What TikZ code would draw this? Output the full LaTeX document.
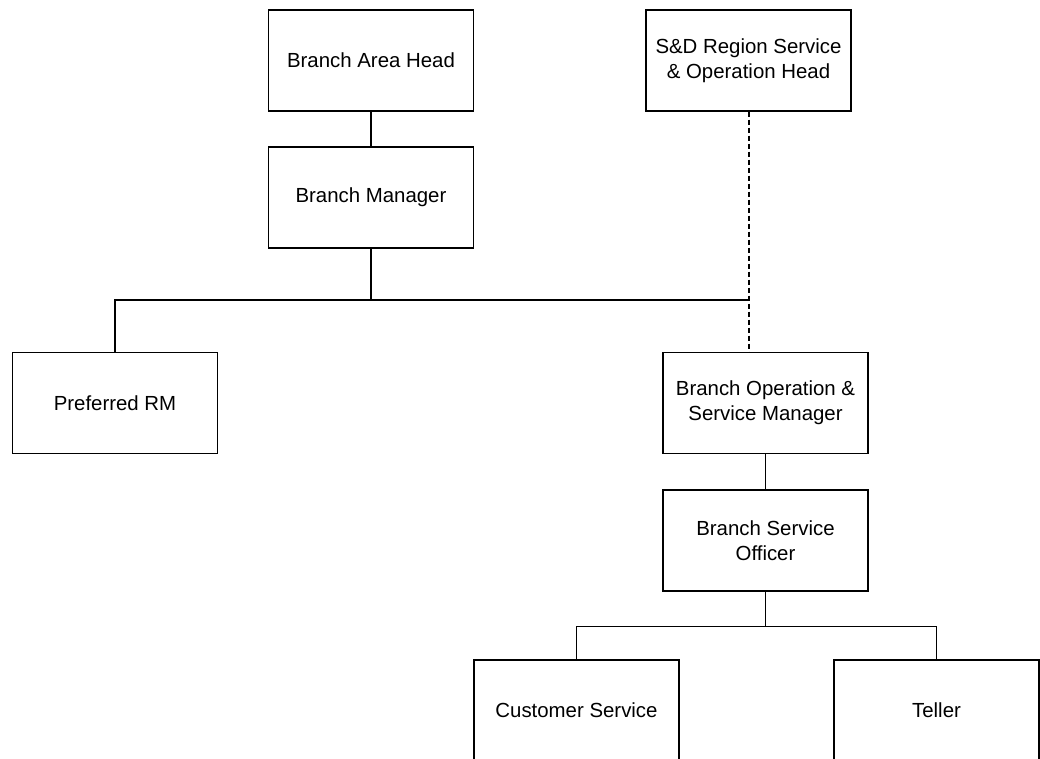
\documentclass[tikz,border=0pt]{standalone}
\usepackage{fontspec}
\setmainfont{Liberation Sans}
\begin{document}
\begin{tikzpicture}[x=1pt,y=1pt,
  box/.style={draw, line width=1.2pt, minimum width=205pt, minimum height=101pt, align=center, inner sep=0pt, font=\fontsize{20.4}{25}\selectfont},
  conn/.style={line width=1.2pt},
  dconn/.style={line width=1.2pt, dash pattern=on 5pt off 3pt}]
\useasboundingbox (0,0) rectangle (1040,-758);
\clip (0,0) rectangle (1040,-758);
\node[box] (bah) at (371,-60.5) {Branch Area Head};
\node[box] (sd) at (748.5,-60.5) {S\&D Region Service\\\& Operation Head};
\node[box] (bm) at (371,-197.5) {Branch Manager};
\node[box] (prm) at (115,-403) {Preferred RM};
\node[box] (bosm) at (765.5,-403) {Branch Operation \&\\Service Manager};
\node[box] (bso) at (765.5,-540.5) {Branch Service\\Officer};
\node[box] (cs) at (576.5,-710.5) {Customer Service};
\node[box] (tel) at (936.5,-710.5) {Teller};
\coordinate (j) at (749,-300);
\coordinate (dend) at (749,-352.5);
\draw[conn] (bah.south) -- (bm.north);
\draw[conn] (bm.south) -- (bm.south |- j) -| (prm.north);
\draw[conn] (bm.south |- j) -- (j);
\draw[dconn] (j |- sd.south) -- (dend);
\draw[conn] (bosm.south) -- (bso.north);
\draw[conn] (bso.south) -- ++(0,-35) -| (cs.north);
\draw[conn] (bso.south) -- ++(0,-35) -| (tel.north);
\end{tikzpicture}
\end{document}
